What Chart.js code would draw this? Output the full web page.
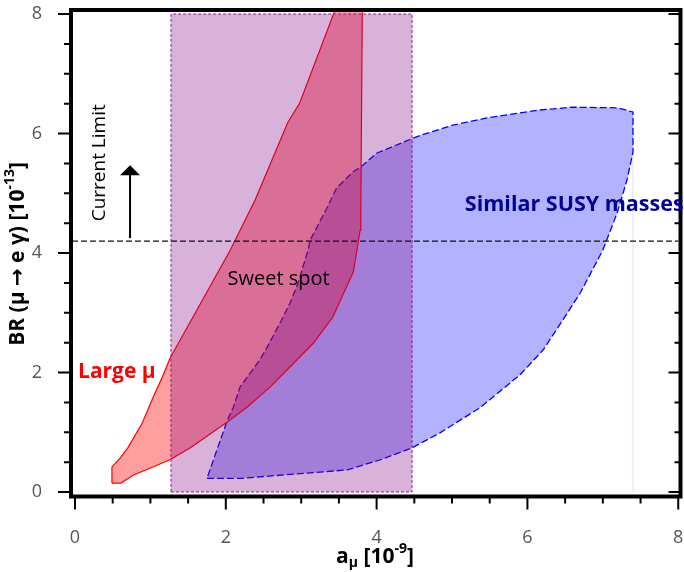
<!DOCTYPE html>
<html>
<head>
<meta charset="utf-8">
<script src="https://cdn.jsdelivr.net/npm/chart.js@4/dist/chart.umd.min.js"></script>
<style>
  html, body { margin: 0; padding: 0; background: #fff; }
</style>
</head>
<body>
<canvas id="chart" width="684" height="572"></canvas>
<script>
// Large mu region: boundary of the allowed band (a_mu in 1e-9, BR in 1e-13)
const largeMuX = [0.49, 0.61, 0.77, 1.26, 1.53, 2.02, 2.28, 2.59, 3.16, 3.42, 3.69, 3.74, 3.78, 3.79, 3.81,
                  3.45, 2.98, 2.82, 2.39, 2.06, 1.26, 1.17, 1.03, 0.89, 0.70, 0.60, 0.49, 0.49];
const largeMuY = [0.15, 0.15, 0.28, 0.54, 0.74, 1.17, 1.42, 1.76, 2.49, 2.93, 3.68, 4.05, 4.38, 4.64, 8.07,
                  8.07, 6.51, 6.18, 4.89, 4.05, 2.24, 1.96, 1.57, 1.15, 0.74, 0.57, 0.42, 0.15];

// Similar SUSY masses region
const susyX = [1.75, 2.21, 3.61, 4.05, 4.47, 4.84, 5.37, 5.90, 6.21, 6.47, 6.70, 7.00, 7.19, 7.32, 7.40, 7.40,
               7.19, 6.60, 6.13, 5.46, 5.01, 4.58, 4.48, 4.00, 3.81, 3.69, 3.47, 3.34, 3.12, 3.09, 2.96,
               2.85, 2.72, 2.55, 2.45, 2.19, 2.10, 2.02, 1.75];
const susyY = [0.23, 0.23, 0.37, 0.54, 0.74, 0.99, 1.41, 1.96, 2.38, 2.88, 3.33, 4.05, 4.67, 5.22, 5.69, 6.36,
               6.43, 6.44, 6.39, 6.26, 6.14, 5.97, 5.92, 5.67, 5.46, 5.36, 5.09, 4.75, 4.22, 4.05, 3.50,
               3.16, 2.83, 2.43, 2.21, 1.76, 1.42, 1.20, 0.23];

// Sweet spot window in a_mu and its BR extent
const sweetSpotX = [1.273, 4.47];
const sweetSpotY = [0, 8.0];

// Current experimental limit on BR(mu -> e gamma)
const currentLimit = 4.2;
const limitRangeX = [-0.04, 8.0];
const limitArrowY = [4.25, 5.47];
const limitArrowX = 0.73;

// Faint edge line of the SUSY scan
const scanEdgeX = 7.40;
const scanEdgeY = [0, 5.69];

// Axis ticks
const tickValues = [0, 0.5, 1, 1.5, 2, 2.5, 3, 3.5, 4, 4.5, 5, 5.5, 6, 6.5, 7, 7.5, 8];
const majorTicks = [0, 2, 4, 6, 8];
const tickLabels = ['0', '2', '4', '6', '8'];

const zip = (xs, ys) => xs.map((x, i) => ({ x, y: ys[i] }));
const rectPts = [
  { x: sweetSpotX[0], y: sweetSpotY[0] }, { x: sweetSpotX[1], y: sweetSpotY[0] },
  { x: sweetSpotX[1], y: sweetSpotY[1] }, { x: sweetSpotX[0], y: sweetSpotY[1] },
  { x: sweetSpotX[0], y: sweetSpotY[0] }
];

const FONT = "'Open Sans', 'DejaVu Sans', sans-serif";

function labelFor(v) {
  const i = majorTicks.indexOf(v);
  return i >= 0 ? tickLabels[i] : '';
}

// Draws a run of text pieces with sub/superscripts, centred on (cx, cy)
function drawRich(ctx, parts, cx, cy, angle) {
  ctx.save();
  ctx.translate(cx, cy);
  ctx.rotate(angle);
  ctx.textBaseline = 'middle';
  ctx.textAlign = 'left';
  let w = 0;
  for (const p of parts) { ctx.font = p.font; w += ctx.measureText(p.t).width; }
  let x = -w / 2;
  for (const p of parts) {
    ctx.font = p.font;
    ctx.fillStyle = '#000';
    ctx.fillText(p.t, x, p.dy || 0);
    x += ctx.measureText(p.t).width;
  }
  ctx.restore();
}

// Scale sizes fixed so the plot frame sits at the same place every time
function fixPadding(s) {
  s.paddingLeft = 0; s.paddingRight = 0; s.paddingTop = 0; s.paddingBottom = 0;
}

const decor = {
  id: 'decor',
  afterDatasetsDraw(chart) {
    const ctx = chart.ctx;
    const xs = chart.scales.x, ys = chart.scales.y, a = chart.chartArea;

    // arrow pointing to the excluded region
    const ax = xs.getPixelForValue(limitArrowX);
    const ay0 = ys.getPixelForValue(limitArrowY[0]);
    const ay1 = ys.getPixelForValue(limitArrowY[1]);
    ctx.save();
    ctx.strokeStyle = '#000';
    ctx.fillStyle = '#000';
    ctx.lineWidth = 2;
    ctx.beginPath();
    ctx.moveTo(ax, ay0);
    ctx.lineTo(ax, ay1 + 8);
    ctx.stroke();
    ctx.beginPath();
    ctx.moveTo(ax, ay1);
    ctx.lineTo(ax - 10, ay1 + 10);
    ctx.lineTo(ax + 10, ay1 + 10);
    ctx.closePath();
    ctx.fill();
    ctx.restore();

    // frame
    ctx.save();
    ctx.strokeStyle = '#000';
    ctx.lineWidth = 4;
    ctx.strokeRect(a.left, a.top, a.right - a.left, a.bottom - a.top);

    // tick marks
    ctx.lineWidth = 2;
    ctx.beginPath();
    for (const v of tickValues) {
      const major = majorTicks.includes(v);
      const px = xs.getPixelForValue(v);
      ctx.moveTo(px, a.bottom);
      ctx.lineTo(px, a.bottom + (major ? 13 : 7));
      const py = ys.getPixelForValue(v);
      ctx.moveTo(a.left - (major ? 13 : 7), py);
      ctx.lineTo(a.left, py);
      ctx.moveTo(a.right - (major ? 12 : 6), py);
      ctx.lineTo(a.right, py);
    }
    ctx.stroke();
    ctx.restore();

    // labels inside the plot
    ctx.save();
    ctx.textBaseline = 'middle';
    ctx.textAlign = 'center';
    ctx.fillStyle = '#000';
    ctx.font = '20px ' + FONT;
    ctx.fillText('Sweet spot', xs.getPixelForValue(2.70), ys.getPixelForValue(3.56));

    ctx.font = '19px ' + FONT;
    ctx.save();
    ctx.translate(xs.getPixelForValue(0.33), ys.getPixelForValue(5.51));
    ctx.rotate(-Math.PI / 2);
    ctx.fillText('Current Limit', 0, 0);
    ctx.restore();

    ctx.textAlign = 'left';
    ctx.font = 'bold 21px ' + FONT;
    ctx.fillStyle = '#ff0000';
    ctx.fillText('Large μ', xs.getPixelForValue(0.04), ys.getPixelForValue(2.01));
    ctx.font = 'bold 21.5px ' + FONT;
    ctx.fillStyle = 'rgb(0,0,150)';
    ctx.fillText('Similar SUSY masses', xs.getPixelForValue(5.17), ys.getPixelForValue(4.80));
    ctx.restore();

    // axis titles
    const B = 'bold 21px ' + FONT, S = 'bold 14px ' + FONT;
    drawRich(ctx, [
      { t: 'a', font: B }, { t: 'μ', font: S, dy: 6 }, { t: ' [10', font: B },
      { t: '-9', font: S, dy: -8 }, { t: ']', font: B }
    ], 375, 557, 0);
    drawRich(ctx, [
      { t: 'BR (μ → e γ) [10', font: B }, { t: '-13', font: S, dy: -8 }, { t: ']', font: B }
    ], 18, 254, -Math.PI / 2);
  }
};

const line = { showLine: true, pointRadius: 0, pointHoverRadius: 0, tension: 0 };

new Chart(document.getElementById('chart'), {
  type: 'scatter',
  data: {
    datasets: [
      Object.assign({
        label: 'Current limit',
        data: [{ x: limitRangeX[0], y: currentLimit }, { x: limitRangeX[1], y: currentLimit }],
        borderColor: '#111', borderWidth: 1.2, borderDash: [6, 3], fill: false, order: 0
      }, line),
      Object.assign({
        label: 'Sweet spot',
        data: rectPts,
        borderColor: 'rgb(150,20,150)', borderWidth: 1, borderDash: [3, 2],
        backgroundColor: 'rgba(128,0,128,0.3)', fill: 'shape', order: 1
      }, line),
      Object.assign({
        label: 'Large μ',
        data: zip(largeMuX, largeMuY),
        borderColor: 'rgb(255,0,0)', borderWidth: 1.2,
        backgroundColor: 'rgba(255,0,0,0.38)', fill: 'shape', order: 2
      }, line),
      Object.assign({
        label: 'Similar SUSY masses',
        data: zip(susyX, susyY),
        borderColor: 'rgb(0,0,255)', borderWidth: 1.3, borderDash: [7, 3],
        backgroundColor: 'rgba(0,0,255,0.3)', fill: 'shape', order: 3
      }, line),
      Object.assign({
        label: 'Scan edge',
        data: [{ x: scanEdgeX, y: scanEdgeY[0] }, { x: scanEdgeX, y: scanEdgeY[1] }],
        borderColor: 'rgba(0,0,255,0.13)', borderWidth: 1, fill: false, order: 4
      }, line)
    ]
  },
  options: {
    responsive: false,
    animation: false,
    layout: { padding: { top: 10, right: 3.5, left: 0, bottom: 0 } },
    plugins: { legend: { display: false }, tooltip: { enabled: false } },
    scales: {
      x: {
        type: 'linear', min: -0.053, max: 8.03,
        afterBuildTicks: s => { s.ticks = tickValues.map(v => ({ value: v })); },
        afterFit: s => { s.height = 75.5; fixPadding(s); },
        grid: { display: false }, border: { display: false },
        ticks: { callback: labelFor, color: '#555', font: { family: FONT, size: 18 }, padding: 23, maxRotation: 0, autoSkip: false }
      },
      y: {
        type: 'linear', min: -0.075, max: 8.067,
        afterBuildTicks: s => { s.ticks = tickValues.map(v => ({ value: v })); },
        afterFit: s => { s.width = 71; fixPadding(s); },
        grid: { display: false }, border: { display: false },
        ticks: { callback: labelFor, color: '#555', font: { family: FONT, size: 18 }, padding: 21, autoSkip: false }
      }
    }
  },
  plugins: [decor]
});
</script>
</body>
</html>
